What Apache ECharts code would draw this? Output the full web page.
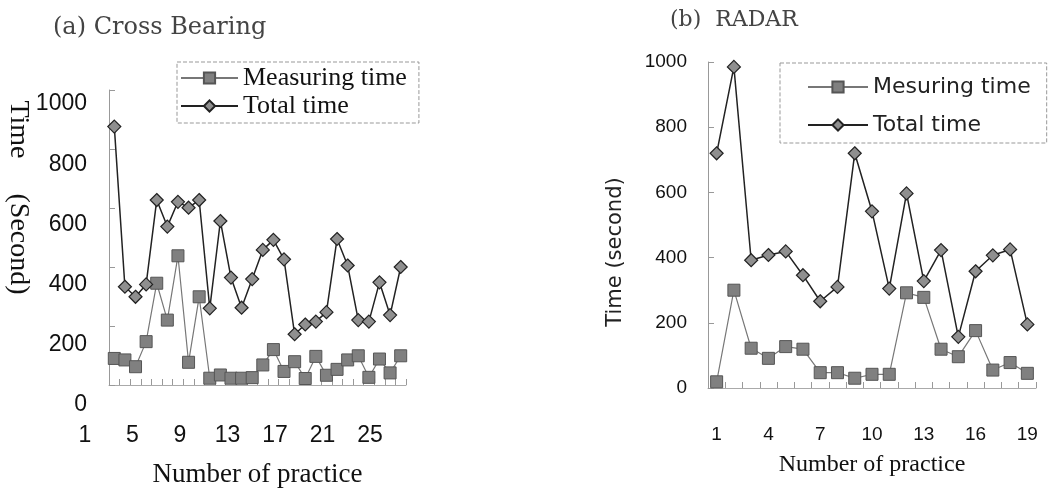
<!DOCTYPE html>
<html>
<head>
<meta charset="utf-8">
<script src="https://cdn.jsdelivr.net/npm/echarts@6/dist/echarts.min.js"></script>
<style>
html,body{margin:0;padding:0;background:#fff;}
#chart{width:1048px;height:489px;}
</style>
</head>
<body>
<div id="chart"></div>
<script>
// ---- data: (a) Cross Bearing ----
const leftPractice = ['1','2','3','4','5','6','7','8','9','10','11','12','13','14','15','16','17','18','19','20','21','22','23','24','25','26','27','28'];
const leftXTickLabels = ['1','2','3','4','5','6','7','8','9','10','11','12','13','14','15','16','17','18','19','20','21','22','23','24','25'];
const leftMeasuring = [90, 85, 62, 147, 345, 220, 438, 77, 299, 23, 34, 23, 23, 25, 68, 120, 46, 79, 22, 97, 33, 53, 85, 99, 26, 88, 41, 99];
const leftTotal = [876, 333, 299, 341, 627, 537, 621, 601, 627, 260, 556, 364, 262, 359, 458, 492, 426, 172, 205, 215, 247, 495, 405, 220, 215, 348, 237, 400];

// ---- data: (b) RADAR ----
const rightPractice = ['1','2','3','4','5','6','7','8','9','10','11','12','13','14','15','16','17','18','19'];
const rightMeasuring = [19, 300, 122, 91, 127, 119, 47, 47, 30, 42, 42, 292, 278, 119, 96, 176, 55, 78, 45];
const rightTotal = [720, 985, 392, 408, 419, 346, 266, 310, 720, 542, 305, 597, 328, 423, 157, 358, 407, 425, 195];

const chart = echarts.init(document.getElementById('chart'), null, {renderer: 'canvas'});

const serif = 'Liberation Serif';
const sans = 'Liberation Sans';
const plain = function (v) { return String(v); };

const option = {
  backgroundColor: '#ffffff',
  animation: false,
  title: [
    {text: '(a) Cross Bearing', left: 53, top: 15, padding: 0,
     textStyle: {fontFamily: 'DejaVu Serif', fontSize: 24, fontWeight: 'normal', color: '#444', lineHeight: 26}},
    {text: '(b)  RADAR', left: 670, top: 8, padding: 0,
     textStyle: {fontFamily: 'DejaVu Serif', fontSize: 22, fontWeight: 'normal', color: '#444', lineHeight: 24}}
  ],
  legend: [
    {data: ['Measuring time', 'Total time'], orient: 'vertical', left: 177, top: 62,
     padding: [2, 12, 3, 3], itemWidth: 57, itemHeight: 14, itemGap: 0, selectedMode: false,
     borderColor: '#999', borderWidth: 1, borderType: 'dashed',
     textStyle: {fontFamily: serif, fontSize: 26, lineHeight: 28, color: '#111'}},
    {data: ['Mesuring time', 'Total time'], orient: 'vertical', left: 780, top: 63,
     padding: [12, 16, 6, 27], itemWidth: 60, itemHeight: 14, itemGap: 14, selectedMode: false,
     borderColor: '#999', borderWidth: 1, borderType: 'dashed',
     textStyle: {fontFamily: 'DejaVu Sans', fontSize: 22, lineHeight: 24, color: '#222'}}
  ],
  grid: [
    {left: 109, top: 90, width: 297, height: 295, outerBoundsMode: 'none'},
    {left: 85, top: 400, width: 285, height: 10, outerBoundsMode: 'none'},
    {left: 109, top: 104, width: 297, height: 301, outerBoundsMode: 'none'},
    {left: 708, top: 62, width: 328, height: 326, outerBoundsMode: 'none'}
  ],
  xAxis: [
    {gridIndex: 0, type: 'category', data: leftPractice, boundaryGap: true,
     axisLine: {show: true, lineStyle: {color: '#aaa', width: 1}},
     axisTick: {show: true, inside: true, length: 6, interval: 0, lineStyle: {color: '#999'}},
     axisLabel: {show: false}, splitLine: {show: false},
     name: 'Number of practice', nameLocation: 'middle', nameGap: 76,
     nameTextStyle: {fontFamily: serif, fontSize: 27, color: '#111'}},
    {gridIndex: 1, type: 'category', data: leftXTickLabels, boundaryGap: false,
     axisLine: {show: false}, axisTick: {show: false}, splitLine: {show: false},
     axisLabel: {interval: 3, margin: 14, fontFamily: sans, fontSize: 23, color: '#111'}},
    {gridIndex: 2, type: 'value', show: false},
    {gridIndex: 3, type: 'category', data: rightPractice, boundaryGap: true,
     axisLine: {show: true, lineStyle: {color: '#aaa', width: 1}},
     axisTick: {show: true, inside: true, length: 6, interval: 0, lineStyle: {color: '#999'}},
     axisLabel: {interval: 2, margin: 37, fontFamily: sans, fontSize: 19, color: '#111'},
     splitLine: {show: false},
     name: 'Number of practice', nameLocation: 'middle', nameGap: 65,
     nameTextStyle: {fontFamily: serif, fontSize: 24, color: '#111'}}
  ],
  yAxis: [
    {gridIndex: 0, type: 'value', min: 0, max: 1000, interval: 200,
     axisLine: {show: true, lineStyle: {color: '#999', width: 1}},
     axisTick: {show: true, inside: true, length: 6, lineStyle: {color: '#999'}},
     axisLabel: {show: false}, splitLine: {show: false},
     name: 'Time     (Second)', nameLocation: 'middle', nameRotate: -90, nameGap: 77,
     nameTextStyle: {fontFamily: serif, fontSize: 28, color: '#111', padding: [0, 80, 0, 0]}},
    {gridIndex: 1, type: 'value', show: false},
    {gridIndex: 2, type: 'value', min: 0, max: 1000, interval: 200,
     axisLine: {show: false}, axisTick: {show: false}, splitLine: {show: false},
     axisLabel: {margin: 22, fontFamily: sans, fontSize: 23, color: '#111', formatter: plain}},
    {gridIndex: 3, type: 'value', min: 0, max: 1000, interval: 200,
     axisLine: {show: true, lineStyle: {color: '#999', width: 1}},
     axisTick: {show: true, inside: true, length: 6, lineStyle: {color: '#999'}},
     axisLabel: {margin: 21, fontFamily: sans, fontSize: 19, color: '#111', formatter: plain},
     splitLine: {show: false},
     name: 'Time (second)', nameLocation: 'middle', nameGap: 82,
     nameTextStyle: {fontFamily: 'DejaVu Sans', fontSize: 21, color: '#222', padding: [0, 54, 0, 0]}}
  ],
  series: [
    {name: 'Measuring time', type: 'line', xAxisIndex: 0, yAxisIndex: 0, data: leftMeasuring,
     symbol: 'rect', symbolSize: 12, showAllSymbol: true,
     itemStyle: {color: '#808080', borderColor: '#555', borderWidth: 1},
     lineStyle: {color: '#777', width: 1.2}},
    {name: 'Total time', type: 'line', xAxisIndex: 0, yAxisIndex: 0, data: leftTotal,
     symbol: 'diamond', symbolSize: 13, showAllSymbol: true,
     itemStyle: {color: '#8f8f8f', borderColor: '#222', borderWidth: 1.2},
     lineStyle: {color: '#222', width: 1.5}},
    {name: 'Mesuring time', type: 'line', xAxisIndex: 3, yAxisIndex: 3, data: rightMeasuring,
     symbol: 'rect', symbolSize: 12, showAllSymbol: true,
     itemStyle: {color: '#808080', borderColor: '#555', borderWidth: 1},
     lineStyle: {color: '#777', width: 1.2}},
    {name: 'Total time', type: 'line', xAxisIndex: 3, yAxisIndex: 3, data: rightTotal,
     symbol: 'diamond', symbolSize: 13, showAllSymbol: true,
     itemStyle: {color: '#8f8f8f', borderColor: '#222', borderWidth: 1.2},
     lineStyle: {color: '#222', width: 1.5}}
  ]
};

chart.setOption(option);
</script>
</body>
</html>
